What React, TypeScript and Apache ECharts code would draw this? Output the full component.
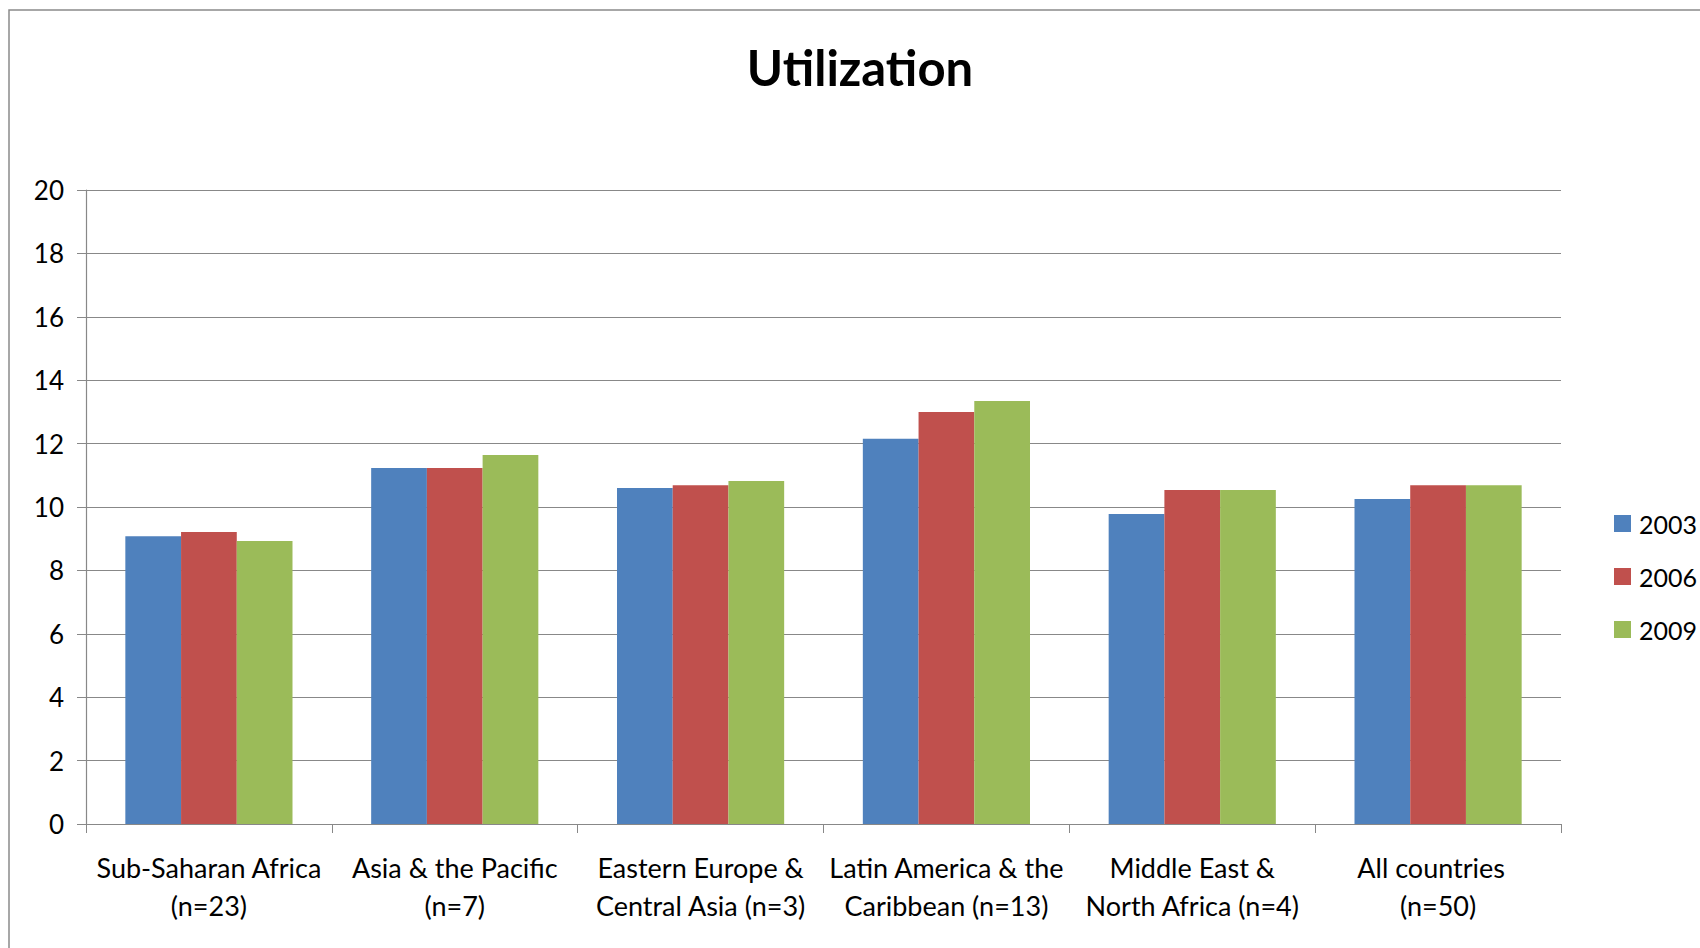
import React, { useEffect, useRef } from "react";
import * as echarts from "echarts";

const categories = [
  "Sub-Saharan Africa\n(n=23)",
  "Asia & the Pacific\n(n=7)",
  "Eastern Europe &\nCentral Asia (n=3)",
  "Latin America & the\nCaribbean (n=13)",
  "Middle East &\nNorth Africa (n=4)",
  "All countries  \n(n=50)",
];
const years = ["2003", "2006", "2009"];
const values2003 = [9.08, 11.23, 10.6, 12.15, 9.78, 10.25];
const values2006 = [9.21, 11.23, 10.69, 13.0, 10.54, 10.69];
const values2009 = [8.93, 11.64, 10.82, 13.34, 10.54, 10.69];
const colors = ["#4F81BD", "#C0504D", "#9BBB59"];

const FONT = "Lato, 'Noto Sans', sans-serif";

export default function App() {
  const ref = useRef<HTMLDivElement>(null);
  useEffect(() => {
    if (!ref.current) return;
    const chart = echarts.init(ref.current, null, { renderer: "svg" });
    const seriesData = [values2003, values2006, values2009];
    chart.setOption({
      animation: false,
      backgroundColor: "#ffffff",
      textStyle: { fontFamily: FONT },
      graphic: [
        {
          type: "rect",
          shape: { x: 9, y: 10, width: 1760, height: 1000 },
          style: { fill: "none", stroke: "#8a8a8a", lineWidth: 1.5 },
          silent: true,
        },
        {
          type: "text",
          x: 860,
          y: 67,
          style: {
            text: "Utilization",
            fontFamily: FONT,
            fontWeight: "bold",
            fontSize: 49,
            fill: "#000",
            textAlign: "center",
            textVerticalAlign: "middle",
          },
        },
      ],
      legend: {
        orient: "vertical",
        left: 1609,
        top: 506,
        itemWidth: 17,
        itemHeight: 17,
        itemGap: 28,
        icon: "rect",
        data: years,
        textStyle: {
          fontFamily: FONT,
          fontSize: 25,
          lineHeight: 24,
          color: "#000",
          padding: [0, 0, 0, 3],
        },
      },
      grid: { left: 86, top: 190, width: 1475, height: 634 },
      xAxis: {
        type: "category",
        data: categories,
        axisLine: { lineStyle: { color: "#888", width: 1.2 } },
        axisTick: { show: true, length: 9, lineStyle: { color: "#888" } },
        axisLabel: {
          interval: 0,
          margin: 24,
          fontFamily: FONT,
          fontSize: 27,
          lineHeight: 38,
          color: "#000",
          align: "center",
        },
      },
      yAxis: {
        type: "value",
        min: 0,
        max: 20,
        interval: 2,
        axisLine: { show: true, lineStyle: { color: "#888", width: 1.2 } },
        axisTick: { show: true, length: 9, lineStyle: { color: "#888" } },
        splitLine: { lineStyle: { color: "#888", width: 1.2 } },
        axisLabel: {
          margin: 22,
          fontFamily: FONT,
          fontSize: 26,
          color: "#000",
        },
      },
      series: years.map((y, i) => ({
        name: y,
        type: "bar",
        data: seriesData[i],
        itemStyle: { color: colors[i] },
        barGap: "0%",
        barCategoryGap: "32%",
      })),
    });
    return () => chart.dispose();
  }, []);
  return (
    <div
      ref={ref}
      style={{ position: "fixed", left: 0, top: 0, width: 1700, height: 948 }}
    />
  );
}
